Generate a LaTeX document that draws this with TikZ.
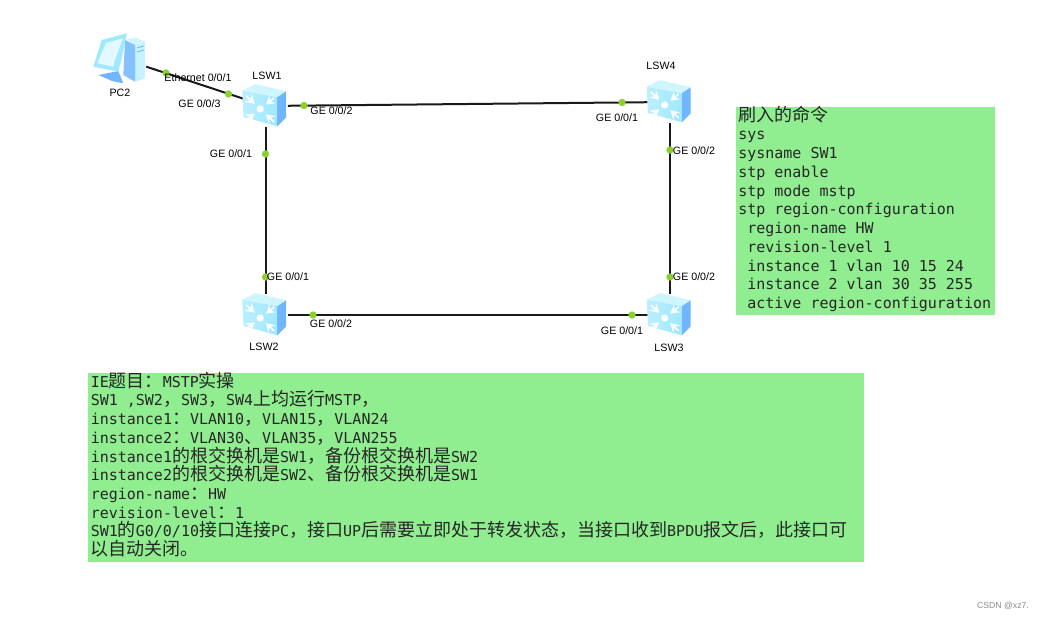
\documentclass[tikz,border=0pt]{standalone}
\usepackage{fontspec}
\usepackage{xcolor}
\setmainfont{Liberation Sans}
\setmonofont{DejaVu Sans Mono}
\newfontfamily\cjk{Noto Sans CJK SC}
\newcommand{\zh}[1]{{\cjk\fontsize{13.5}{14.06}\selectfont #1}}
\usetikzlibrary{arrows.meta}
\definecolor{boxgreen}{HTML}{90EE90}
\definecolor{portgreen}{HTML}{8CCF2E}
\definecolor{topblue}{HTML}{CFF6FF}
\definecolor{frontblue}{HTML}{9FE8FF}
\definecolor{sideblue}{HTML}{6FB6FF}
\tikzset{
  devnode/.style={inner sep=0pt,minimum width=#1},
  portdot/.style={circle,fill=portgreen,inner sep=0pt,minimum size=5.5},
  portlabel/.style={font=\fontsize{8}{9}\selectfont,inner sep=0pt,text=black},
  link/.style={line width=1.5pt,black!90},
  greenbox/.style={fill=boxgreen,inner sep=0pt,anchor=north west},
  boxtext/.style={anchor=north west,inner sep=0pt,align=left,text=black!85,
    font=\ttfamily\fontsize{11.25}{14.06}\selectfont,
    execute at begin node={\lineskiplimit=-100pt}},
  switchicon/.pic={
    \fill[topblue] (-23.3,-15.3) -- (-10,-22) -- (20.7,-14.7) -- (11.7,-8.7) -- cycle;
    \fill[sideblue] (11.7,-8.7) -- (20.7,-14.7) -- (20.7,11.3) -- (11.7,20.3) -- cycle;
    \shade[left color=frontblue!70!white,right color=frontblue]
      (-23.3,-15.3) -- (11.7,-8.7) -- (11.7,20.3) -- (-22,11) -- cycle;
    \fill[white] (-5.3,3) circle (3.6);
    \foreach \dx/\dy in {-14/-13,14/-11,-14/11,14/13}{
      \draw[white,line width=1.2pt,-{Stealth[length=6.5pt,width=7.5pt,inset=2.5pt]}]
        (-5.3+\dx,3+\dy) -- (-5.3+0.4*\dx,3+0.4*\dy);}
  },
  pcicon/.pic={
    % tower
    \fill[topblue] (6.7,-18.7) -- (15,-20.7) -- (25,-16.3) -- (15,-13) -- cycle;
    \fill[topblue!80!frontblue] (15,-13) -- (25,-16.3) -- (25,20.3) -- (15,23.7) -- cycle;
    \fill[sideblue!85!white] (5,-18) -- (15,-13) -- (15,23.7) -- (3.3,17) -- cycle;
    \draw[sideblue,line width=0.6pt] (17,-10) -- (24,-12) (17,-6) -- (24,-8);
    % monitor
    \fill[sideblue] (-21.7,17) -- (-1.7,13) -- (3.3,25.3) -- (-8,23) -- cycle;
    \fill[frontblue] (-26.7,8.7) -- (-18.3,-18) -- (6.7,-24.7) -- (1.7,0.3) -- (-1.7,13.7) -- cycle;
    \fill[topblue!60!white] (-22.7,5) -- (-14,-15) -- (3,-19.7) -- (-5,2) -- (-6.7,9) -- cycle;
  }
}
\begin{document}
\begin{tikzpicture}[x=0.75pt,y=-0.75pt]
  \useasboundingbox (0,0) rectangle (1045,620);
  % --- devices
  \node[devnode=39,minimum height=37.5] (pc2) at (120,58) {};
  \node[devnode=33,minimum height=31.5] (lsw1) at (265.5,106) {};
  \node[devnode=33,minimum height=31.5] (lsw4) at (670,102) {};
  \node[devnode=33,minimum height=31.5] (lsw2) at (265.5,315) {};
  \node[devnode=33,minimum height=31.5] (lsw3) at (670,315) {};
  % --- links
  \draw[link] (pc2) -- (lsw1);
  \draw[link] (lsw1) -- (lsw4);
  \draw[link] (lsw1) -- (lsw2);
  \draw[link] (lsw4) -- (lsw3);
  \draw[link] (lsw2) -- (lsw3);
  \pic at (pc2) {pcicon};
  \foreach \sw in {lsw1,lsw2,lsw3,lsw4}{
    \pic at (\sw) {switchicon};}
  % --- port dots
  \foreach \name/\x/\y in {a/166/73,b/228.5/94,c/304/105.5,d/622/102.5,e/265.5/154,
    f/670/150,g/265.5/277,h/670/277,i/313/315,j/632/315}{
    \node[portdot] (dot\name) at (\x,\y) {};}
  % --- port names and device names
  \foreach \name/\x/\y/\txt in {a/198/78/{Ethernet 0/0/1},b/199.5/104/{GE 0/0/3},
    c/331.5/111/{GE 0/0/2},d/617/118/{GE 0/0/1},e/231/154/{GE 0/0/1},
    f/694/151/{GE 0/0/2},g/288/277/{GE 0/0/1},h/694/277/{GE 0/0/2},
    i/331/324/{GE 0/0/2},j/622/331/{GE 0/0/1},
    k/120/93/PC2,l/267/76/LSW1,m/661/66/LSW4,n/264/347/LSW2,o/669/348/LSW3}{
    \node[portlabel] (label\name) at (\x,\y) {\txt};}
  % --- command box
  \node[greenbox,minimum width=194.25,minimum height=156] (cmdbox) at (736,107) {};
  \node[boxtext] (cmdtext) at (738,105.5) {\zh{刷入的命令}\\
    sys\\
    sysname SW1\\
    stp enable\\
    stp mode mstp\\
    stp region-configuration\\
    \ region-name HW\\
    \ revision-level 1\\
    \ instance 1 vlan 10 15 24\\
    \ instance 2 vlan 30 35 255\\
    \ active region-configuration};
  % --- task box
  \node[greenbox,minimum width=582,minimum height=141.75] (taskbox) at (88,373) {};
  \node[boxtext] (tasktext) at (90.5,371.5) {IE\zh{题目：}MSTP\zh{实操}\\
    SW1 ,SW2\zh{，}SW3\zh{，}SW4\zh{上均运行}MSTP\zh{，}\\
    instance1\zh{：}VLAN10\zh{，}VLAN15\zh{，}VLAN24\\
    instance2\zh{：}VLAN30\zh{、}VLAN35\zh{，}VLAN255\\
    instance1\zh{的根交换机是}SW1\zh{，备份根交换机是}SW2\\
    instance2\zh{的根交换机是}SW2\zh{、备份根交换机是}SW1\\
    region-name\zh{：}HW\\
    revision-level\zh{：}1\\
    SW1\zh{的}G0/0/10\zh{接口连接}PC\zh{，接口}UP\zh{后需要立即处于转发状态，当接口收到}BPDU\zh{报文后，此接口可}\\
    \zh{以自动关闭。}};
  \node[font=\fontsize{6.5}{8}\selectfont,text=black!45,inner sep=0pt] (mark) at (1003,606) {CSDN @xz7.};
\end{tikzpicture}
\end{document}
